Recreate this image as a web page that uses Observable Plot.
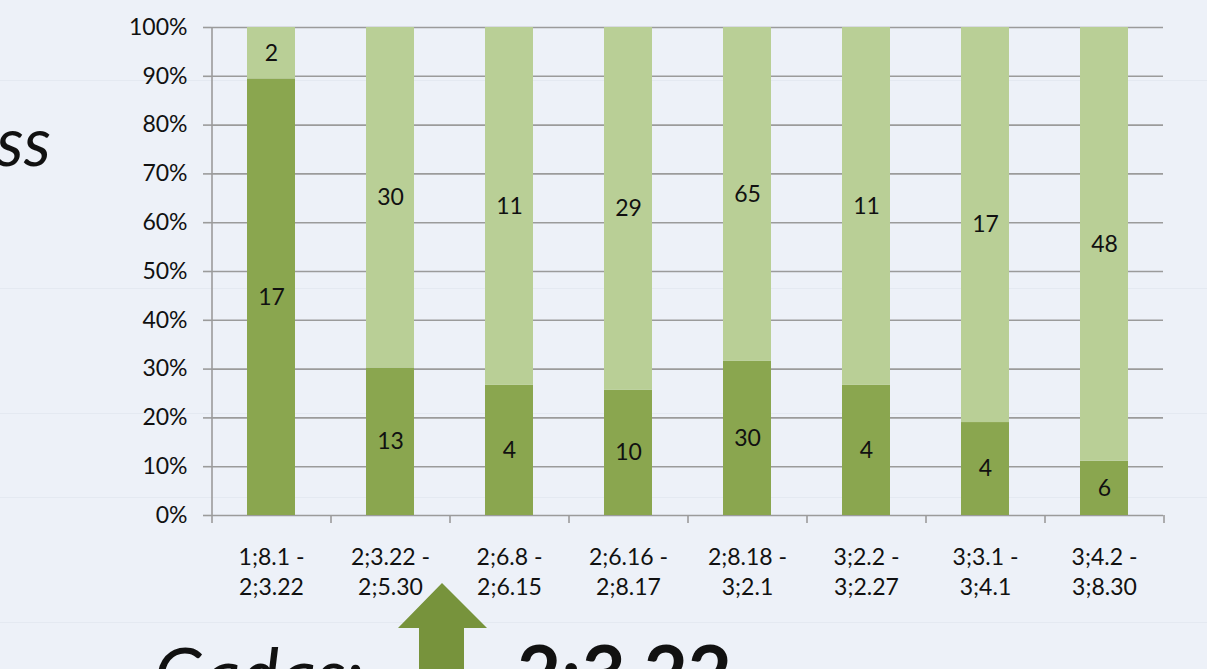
<!DOCTYPE html>
<html><head><meta charset="utf-8">
<script src="https://cdn.jsdelivr.net/npm/d3@7"></script>
<script src="https://cdn.jsdelivr.net/npm/@observablehq/plot@0.6"></script>
<style>
html,body{margin:0;padding:0;background:#edf1f8;overflow:hidden}
#wrap{position:relative;width:1207px;height:669px;overflow:hidden}
.bgline{position:absolute;left:0;width:1207px;height:1px;background:#e4e9f1}
#chart{position:absolute;left:0;top:0}
#deco{position:absolute;left:0;top:0}
</style></head><body>
<div id="wrap">
  <div class="bgline" style="top:80px"></div>
  <div class="bgline" style="top:288px"></div>
  <div class="bgline" style="top:413px"></div>
  <div class="bgline" style="top:497px"></div>
  <div class="bgline" style="top:622px"></div>
  <div id="chart"></div>
  <svg id="deco" width="1207" height="669" font-family="Lato, 'Open Sans', sans-serif">
    <text x="51" y="166" text-anchor="end" font-style="italic" font-size="68" fill="#111">ss</text>
    <text x="154" y="701" font-style="italic" font-size="73" fill="#111">Gadas:</text>
    <polygon points="442,583 487,628 464,628 464,669 419,669 419,628 398,628" fill="#77933c"/>
    <text x="517" y="701" font-weight="bold" font-size="76" fill="#111">2;3.22</text>
  </svg>
</div>
<script>
const categories = [
  "1;8.1 -\n2;3.22", "2;3.22 -\n2;5.30", "2;6.8 -\n2;6.15", "2;6.16 -\n2;8.17",
  "2;8.18 -\n3;2.1", "3;2.2 -\n3;2.27", "3;3.1 -\n3;4.1", "3;4.2 -\n3;8.30"
];
const darkCounts  = [17, 13, 4, 10, 30, 4, 4, 6];
const lightCounts = [2, 30, 11, 29, 65, 11, 17, 48];
const seriesNames = ["dark", "light"];
const yTicks = [0, 0.1, 0.2, 0.3, 0.4, 0.5, 0.6, 0.7, 0.8, 0.9, 1];

const rows = categories.flatMap((c, i) => [
  {category: c, series: "dark", count: darkCounts[i]},
  {category: c, series: "light", count: lightCounts[i]}
]);

const W = 1207, H = 669, mL = 211, mR = 44, mT = 27, mB = 154;
const step = (W - mL - mR) / categories.length;
const gridColor = "#9b9b9b";
const fs = 23;

const chart = Plot.plot({
  width: W, height: H,
  marginLeft: mL, marginRight: mR, marginTop: mT, marginBottom: mB,
  style: {background: "transparent", fontFamily: "Lato, 'Open Sans', sans-serif", fontSize: fs + "px", color: "#111"},
  x: {domain: categories, paddingInner: 0.6, paddingOuter: 0.3, label: null},
  y: {domain: [0, 1], label: null},
  color: {domain: seriesNames, range: ["#8aa64f", "#b9cf96"]},
  marks: [
    Plot.gridY(yTicks, {stroke: gridColor, strokeOpacity: 1, strokeWidth: 1.6}),
    Plot.barY(rows, Plot.stackY({offset: "normalize", x: "category", y: "count", fill: "series"})),
    Plot.text(rows, Plot.stackY({offset: "normalize", x: "category", y: "count", text: "count", fontSize: fs, fill: "#111"})),
    Plot.ruleX(categories.slice(0, 1), {dx: -step / 2, stroke: gridColor, strokeWidth: 1.6}),
    Plot.axisX(categories, {tickSize: 8, text: null, dx: -step / 2, stroke: gridColor, strokeWidth: 1.6, label: null}),
    Plot.axisX(categories.slice(-1), {tickSize: 8, text: null, dx: step / 2, stroke: gridColor, strokeWidth: 1.6, label: null}),
    Plot.axisY(yTicks, {tickSize: 8, tickPadding: 16, stroke: gridColor, strokeWidth: 1.6, fill: "#111",
      tickFormat: d => Math.round(d * 100) + "%", fontSize: fs, label: null}),
    Plot.axisX(categories, {tickSize: 0, tickPadding: 28, lineHeight: 1.32, fontSize: fs, fill: "#111", label: null})
  ]
});
document.getElementById("chart").appendChild(chart);
</script>
</body></html>
